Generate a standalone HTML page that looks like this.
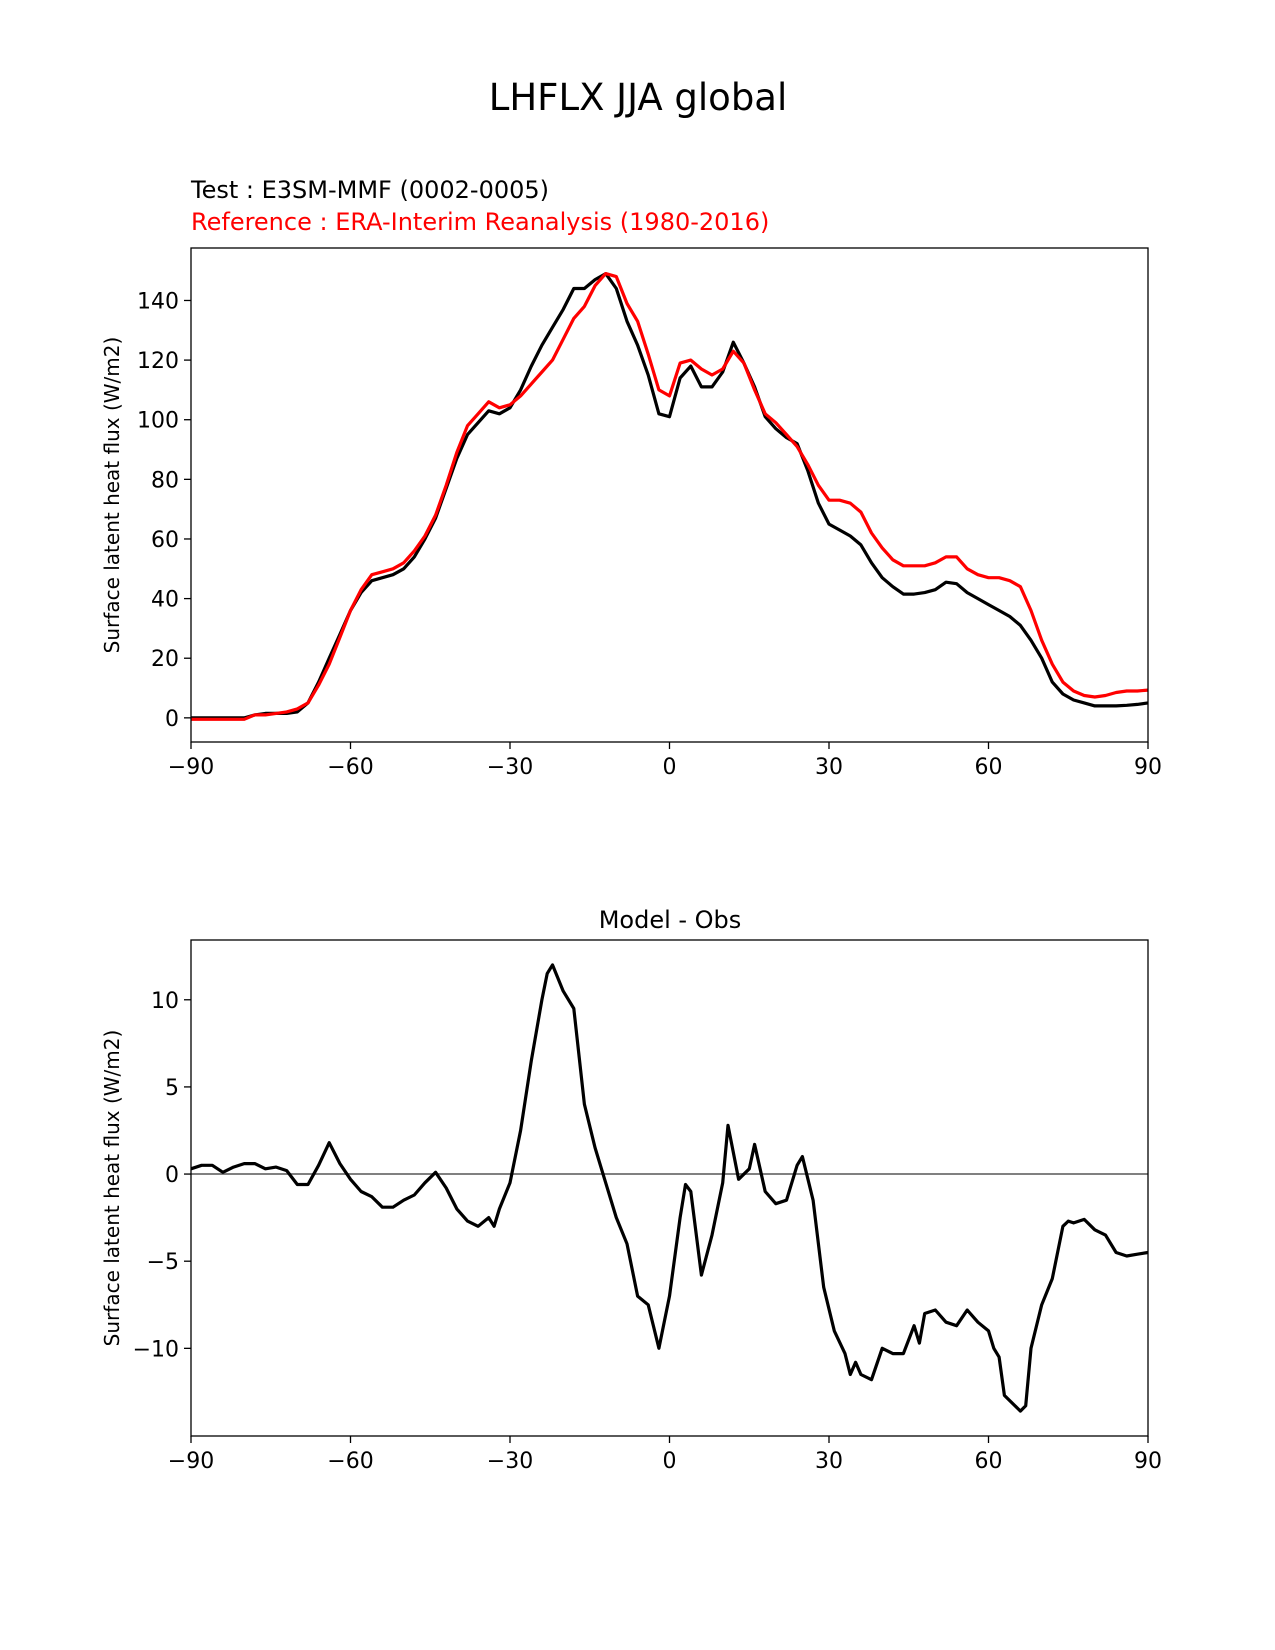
<!DOCTYPE html>
<html><head><meta charset="utf-8">
<style>
body{margin:0;background:#fff;}
svg{display:block;font-family:"DejaVu Sans","Liberation Sans",sans-serif;}
</style></head>
<body>
<svg id="fig" width="1275" height="1650" viewBox="0 0 1275 1650" xmlns="http://www.w3.org/2000/svg">
<rect width="1275" height="1650" fill="#fff"/>
<text x="638" y="110" font-size="37" text-anchor="middle">LHFLX JJA global</text>
<text x="191" y="198" font-size="24">Test : E3SM-MMF (0002-0005)</text>
<text x="191" y="230" font-size="24" fill="#f00">Reference : ERA-Interim Reanalysis (1980-2016)</text>
<text x="670" y="928" font-size="24" text-anchor="middle">Model - Obs</text>
</svg>
<script>
const latTop=[-90,-88,-86,-84,-82,-80,-78,-76,-74,-72,-70,-68,-66,-64,-62,-60,-58,-56,-54,-52,-50,-48,-46,-44,-42,-40,-38,-36,-34,-32,-30,-28,-26,-24,-22,-20,-18,-16,-14,-12,-10,-8,-6,-4,-2,0,2,4,6,8,10,12,14,16,18,20,22,24,26,28,30,32,34,36,38,40,42,44,46,48,50,52,54,56,58,60,62,64,66,68,70,72,74,76,78,80,82,84,86,88,90];
const testVals=[0,0,0,0,0,0,1,1.5,1.5,1.5,2,5,12,20,28,36,42,46,47,48,50,54,60,67,77,87,95,99,103,102,104,110,118,125,131,137,144,144,147,149,144,133,125,115,102,101,114,118,111,111,116,126,119,111,101,97,94,92,83,72,65,63,61,58,52,47,44,41.5,41.5,42,43,45.5,45,42,40,38,36,34,31,26,20,12,8,6,5,4,4,4,4.2,4.5,5];
const refVals=[-0.5,-0.5,-0.5,-0.5,-0.5,-0.5,1,1,1.5,2,3,5,11,18,27,36,43,48,49,50,52,56,61,68,78,89,98,102,106,104,105,108,112,116,120,127,134,138,145,149,148,139,133,122,110,108,119,120,117,115,117,123,119,110,102,99,95,91,85,78,73,73,72,69,62,57,53,51,51,51,52,54,54,50,48,47,47,46,44,36,26,18,12,9,7.5,7,7.5,8.5,9,9,9.3];
const diffLat=[-90,-88,-86,-84,-82,-80,-78,-76,-74,-72,-70,-68,-66,-64,-62,-60,-58,-56,-54,-52,-50,-48,-46,-44,-42,-40,-38,-36,-34,-33,-32,-30,-28,-26,-24,-23,-22,-20,-18,-16,-14,-12,-10,-8,-6,-4,-2,0,2,3,4,6,8,10,11,13,15,16,18,20,22,24,25,27,29,31,33,34,35,36,38,40,42,44,46,47,48,50,52,54,56,58,60,61,62,63,66,67,68,70,72,74,75,76,78,80,82,84,86,88,90];
const diffVals=[0.3,0.5,0.5,0.1,0.4,0.6,0.6,0.3,0.4,0.2,-0.6,-0.6,0.5,1.8,0.6,-0.3,-1,-1.3,-1.9,-1.9,-1.5,-1.2,-0.5,0.1,-0.8,-2,-2.7,-3,-2.5,-3,-2,-0.5,2.5,6.5,10,11.5,12,10.5,9.5,4,1.5,-0.5,-2.5,-4,-7,-7.5,-10,-7,-2.5,-0.6,-1,-5.8,-3.5,-0.5,2.8,-0.3,0.3,1.7,-1,-1.7,-1.5,0.5,1,-1.5,-6.5,-9,-10.3,-11.5,-10.8,-11.5,-11.8,-10,-10.3,-10.3,-8.7,-9.7,-8,-7.8,-8.5,-8.7,-7.8,-8.5,-9,-10,-10.5,-12.7,-13.6,-13.3,-10,-7.5,-6,-3,-2.7,-2.8,-2.6,-3.2,-3.5,-4.5,-4.7,-4.6,-4.5];
const xTicks=[-90,-60,-30,0,30,60,90];
const yTicksTop=[0,20,40,60,80,100,120,140];
const yTicksBot=[-10,-5,0,5,10];

const NS="http://www.w3.org/2000/svg";
const svgEl=document.getElementById('fig');
function mk(tag,attrs,parent){const e=document.createElementNS(NS,tag);for(const k in attrs)e.setAttribute(k,attrs[k]);(parent||svgEl).appendChild(e);return e;}
const X0=191,X1=1148;
function xs(v){return X0+(v+90)/180*(X1-X0);}
function makeAxes(name,t0,b0,ymin,ymax,yt,ytitle){
  const ys=v=>b0-(v-ymin)/(ymax-ymin)*(b0-t0);
  const g=mk('g',{});
  
  
  xTicks.forEach(t=>{
    const l=mk('line',{x1:xs(t),x2:xs(t),y1:b0,y2:b0+7,stroke:'#000','stroke-width':1.3},g);
    
    
    const tx=mk('text',{x:xs(t),y:b0+32,'font-size':22,'text-anchor':'middle'},g);
    
    
    tx.textContent=(t<0?'\u2212'+(-t):t);
  });
  yt.forEach(t=>{
    const l=mk('line',{x1:X0-7,x2:X0,y1:ys(t),y2:ys(t),stroke:'#000','stroke-width':1.3},g);
    
    
    const tx=mk('text',{x:X0-12,y:ys(t)+8,'font-size':22,'text-anchor':'end'},g);
    
    
    tx.textContent=(t<0?'\u2212'+(-t):t);
  });
  const cy=(t0+b0)/2;
  const yl=mk('text',{x:119,y:cy,'font-size':20,'text-anchor':'middle',transform:`rotate(-90 119 ${cy})`},g);
  
  
  yl.textContent=ytitle;
  return {g,ys,t0,b0};
}
function line(ax,lats,vals,color,name,w){
  const d=lats.map((la,i)=>(i?'L':'M')+xs(la).toFixed(1)+','+ax.ys(vals[i]).toFixed(1)).join('');
  const p=mk('path',{d,fill:'none',stroke:color,'stroke-width':w||3.2,'stroke-linejoin':'round'},ax.g);
  
  
}
function frame(ax){
  const r=mk('rect',{x:X0,y:ax.t0,width:X1-X0,height:ax.b0-ax.t0,fill:'none',stroke:'#000','stroke-width':1.3},ax.g);
  
  
}
const axTop=makeAxes('top-chart',248,742,-8.1,157.6,yTicksTop,'Surface latent heat flux (W/m2)');
line(axTop,latTop,testVals,'#000','test-line');
line(axTop,latTop,refVals,'#f00','reference-line');
frame(axTop);
const axBot=makeAxes('diff-chart',940,1436,-15.03,13.43,yTicksBot,'Surface latent heat flux (W/m2)');
const z=mk('line',{x1:X0,x2:X1,y1:axBot.ys(0),y2:axBot.ys(0),stroke:'#808080','stroke-width':2},axBot.g);


line(axBot,diffLat,diffVals,'#000','difference-line');
frame(axBot);
</script>
</body></html>
